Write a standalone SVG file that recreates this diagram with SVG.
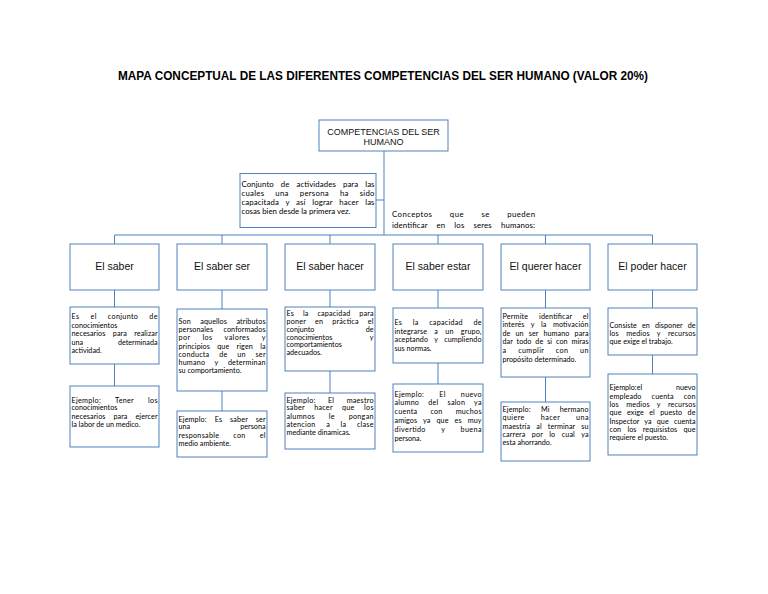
<svg xmlns="http://www.w3.org/2000/svg" width="768" height="594" viewBox="0 0 768 594">
<style>
.bx{fill:#fff;stroke:#4F81BD;stroke-width:1}
.ln{fill:none;stroke:#4F81BD;stroke-width:1}
.title{font-family:"Liberation Sans",Arial,sans-serif;font-weight:bold;font-size:12px;fill:#000}
.hd{font-family:"Liberation Sans",Arial,sans-serif;font-size:10.5px;fill:#111;text-anchor:middle}
.top{font-family:"Liberation Sans",Arial,sans-serif;font-size:9px;fill:#111;text-anchor:middle}
.t{font-family:Lato,"Open Sans",sans-serif;font-size:7.2px;fill:#000}
.t2{font-family:Lato,"Open Sans",sans-serif;font-size:7.8px;fill:#000}
.e{text-anchor:end}
</style>
<rect width="768" height="594" fill="#fff"/>
<text class="title" x="118" y="79.5" textLength="530" lengthAdjust="spacingAndGlyphs">MAPA CONCEPTUAL DE LAS DIFERENTES  COMPETENCIAS DEL SER HUMANO (VALOR 20%)</text>

<g id="connectors">
<path class="ln" d="M384 151V235M376 200H384M114.5 235H652.5M114.5 235V244M222 235V244M330 235V244M438 235V244M545.5 235V244M652.5 235V244"/>
<path class="ln" d="M114.5 290V307M114.5 364V386M222 290V309M222 391V411M330 290V307M330 371V393M438 290V308M438 363V384M545.5 290V308M545.5 377V402M652.5 290V308M652.5 355V374"/>
</g>

<g id="root">
<rect class="bx" x="319" y="120" width="129" height="31"/>
<text class="top" x="383.5" y="134.5">COMPETENCIAS DEL SER</text>
<text class="top" x="383.5" y="144.5">HUMANO</text>
</g>

<g id="definicion">
<rect class="bx" x="240" y="173.5" width="136" height="54"/>
<text class="t2" x="241.5" y="187" style="word-spacing:5px" textLength="133" lengthAdjust="spacing">Conjunto de actividades para las</text>
<text class="t2" x="241.5" y="196" style="word-spacing:8.8px" textLength="133" lengthAdjust="spacing">cuales una persona ha sido</text>
<text class="t2" x="241.5" y="205" style="word-spacing:4.6px" textLength="133" lengthAdjust="spacing">capacitada y así lograr hacer las</text>
<text class="t2" x="241.5" y="214">cosas bien desde la primera vez.</text>
</g>

<g id="conceptos">
<text class="t2" x="392" y="216.5" style="word-spacing:15px" textLength="143" lengthAdjust="spacing">Conceptos que se pueden</text>
<text class="t2" x="392" y="227.5" style="word-spacing:6.9px" textLength="143" lengthAdjust="spacing">identificar en los seres humanos:</text>
</g>

<g id="el-saber">
<rect class="bx" x="70" y="244" width="89" height="46"/>
<text class="hd" x="114.5" y="270">El saber</text>
</g>
<g id="el-saber-ser">
<rect class="bx" x="177" y="244" width="90" height="46"/>
<text class="hd" x="222" y="270">El saber ser</text>
</g>
<g id="el-saber-hacer">
<rect class="bx" x="285" y="244" width="90" height="46"/>
<text class="hd" x="330" y="270">El saber hacer</text>
</g>
<g id="el-saber-estar">
<rect class="bx" x="393" y="244" width="90" height="46"/>
<text class="hd" x="438" y="270">El saber estar</text>
</g>
<g id="el-querer-hacer">
<rect class="bx" x="501" y="244" width="89" height="46"/>
<text class="hd" x="545.5" y="270">El querer hacer</text>
</g>
<g id="el-poder-hacer">
<rect class="bx" x="608" y="244" width="89" height="46"/>
<text class="hd" x="652.5" y="270">El poder hacer</text>
</g>

<g id="saber-def">
<rect class="bx" x="70" y="307" width="89" height="57"/>
<text class="t" x="71.5" y="319" style="word-spacing:9px" textLength="86" lengthAdjust="spacing">Es el conjunto de</text>
<text class="t" x="71.5" y="327.5">conocimientos</text>
<text class="t" x="71.5" y="336" style="word-spacing:5.5px" textLength="86" lengthAdjust="spacing">necesarios para realizar</text>
<text class="t" x="71.5" y="344.5">una</text><text class="t e" x="157.5" y="344.5">determinada</text>
<text class="t" x="71.5" y="353">actividad.</text>
</g>
<g id="saber-ej">
<rect class="bx" x="70" y="386" width="89" height="61"/>
<text class="t" x="71.5" y="402.5" style="word-spacing:12px" textLength="86" lengthAdjust="spacing">Ejemplo: Tener los</text>
<text class="t" x="71.5" y="410">conocimientos</text>
<text class="t" x="71.5" y="418.5" style="word-spacing:6px" textLength="86" lengthAdjust="spacing">necesarios para ejercer</text>
<text class="t" x="71.5" y="426.5">la labor de un medico.</text>
</g>

<g id="saber-ser-def">
<rect class="bx" x="177" y="309" width="90" height="82"/>
<text class="t" x="178.5" y="324" style="word-spacing:7.5px" textLength="87" lengthAdjust="spacing">Son aquellos atributos</text>
<text class="t" x="178.5" y="332" style="word-spacing:8.5px" textLength="87" lengthAdjust="spacing">personales conformados</text>
<text class="t" x="178.5" y="340" style="word-spacing:10px" textLength="87" lengthAdjust="spacing">por los valores y</text>
<text class="t" x="178.5" y="348.5" style="word-spacing:5.3px" textLength="87" lengthAdjust="spacing">principios que rigen la</text>
<text class="t" x="178.5" y="356.5" style="word-spacing:7.7px" textLength="87" lengthAdjust="spacing">conducta de un ser</text>
<text class="t" x="178.5" y="365" style="word-spacing:7.6px" textLength="87" lengthAdjust="spacing">humano y determinan</text>
<text class="t" x="178.5" y="373">su comportamiento.</text>
</g>
<g id="saber-ser-ej">
<rect class="bx" x="177" y="411" width="90" height="46"/>
<text class="t" x="178.5" y="421.5" style="word-spacing:6px" textLength="87" lengthAdjust="spacing">Ejemplo: Es saber ser</text>
<text class="t" x="178.5" y="429">una</text><text class="t e" x="265.5" y="429">persona</text>
<text class="t" x="178.5" y="437.5" style="word-spacing:12px" textLength="87" lengthAdjust="spacing">responsable con el</text>
<text class="t" x="178.5" y="446">medio ambiente.</text>
</g>

<g id="saber-hacer-def">
<rect class="bx" x="285" y="307" width="90" height="64"/>
<text class="t" x="286.5" y="316" style="word-spacing:6.9px" textLength="87" lengthAdjust="spacing">Es la capacidad para</text>
<text class="t" x="286.5" y="323.5" style="word-spacing:7px" textLength="87" lengthAdjust="spacing">poner en práctica el</text>
<text class="t" x="286.5" y="332">conjunto</text><text class="t e" x="373.5" y="332">de</text>
<text class="t" x="286.5" y="339.5">conocimientos</text><text class="t e" x="373.5" y="339.5">y</text>
<text class="t" x="286.5" y="347">comportamientos</text>
<text class="t" x="286.5" y="355">adecuados.</text>
</g>
<g id="saber-hacer-ej">
<rect class="bx" x="285" y="393" width="90" height="56"/>
<text class="t" x="286.5" y="402.5" style="word-spacing:10.4px" textLength="87" lengthAdjust="spacing">Ejemplo: El maestro</text>
<text class="t" x="286.5" y="410" style="word-spacing:7.4px" textLength="87" lengthAdjust="spacing">saber hacer que los</text>
<text class="t" x="286.5" y="418.5" style="word-spacing:11.7px" textLength="87" lengthAdjust="spacing">alumnos le pongan</text>
<text class="t" x="286.5" y="426.5" style="word-spacing:8.5px" textLength="87" lengthAdjust="spacing">atencion a la clase</text>
<text class="t" x="286.5" y="435">mediante dinamicas.</text>
</g>

<g id="saber-estar-def">
<rect class="bx" x="393" y="308" width="90" height="55"/>
<text class="t" x="394.5" y="325" style="word-spacing:8.5px" textLength="87" lengthAdjust="spacing">Es la capacidad de</text>
<text class="t" x="394.5" y="333.5" style="word-spacing:5.3px" textLength="87" lengthAdjust="spacing">integrarse a un grupo,</text>
<text class="t" x="394.5" y="342" style="word-spacing:4.5px" textLength="87" lengthAdjust="spacing">aceptando y cumpliendo</text>
<text class="t" x="394.5" y="351">sus normas.</text>
</g>
<g id="saber-estar-ej">
<rect class="bx" x="393" y="384" width="90" height="68"/>
<text class="t" x="394.5" y="396.5" style="word-spacing:12.9px" textLength="87" lengthAdjust="spacing">Ejemplo: El nuevo</text>
<text class="t" x="394.5" y="405" style="word-spacing:7px" textLength="87" lengthAdjust="spacing">alumno del salon ya</text>
<text class="t" x="394.5" y="414" style="word-spacing:11px" textLength="87" lengthAdjust="spacing">cuenta con muchos</text>
<text class="t" x="394.5" y="423" style="word-spacing:4px" textLength="87" lengthAdjust="spacing">amigos ya que es muy</text>
<text class="t" x="394.5" y="432" style="word-spacing:13.3px" textLength="87" lengthAdjust="spacing">divertido y buena</text>
<text class="t" x="394.5" y="440.5">persona.</text>
</g>

<g id="querer-hacer-def">
<rect class="bx" x="501" y="308" width="89" height="69"/>
<text class="t" x="502.5" y="318.5" style="word-spacing:8.8px" textLength="86" lengthAdjust="spacing">Permite identificar el</text>
<text class="t" x="502.5" y="327" style="word-spacing:4.6px" textLength="86" lengthAdjust="spacing">interés y la motivación</text>
<text class="t" x="502.5" y="335.5" style="word-spacing:3.1px" textLength="86" lengthAdjust="spacing">de un ser humano para</text>
<text class="t" x="502.5" y="344" style="word-spacing:2.1px" textLength="86" lengthAdjust="spacing">dar todo de si con miras</text>
<text class="t" x="502.5" y="353" style="word-spacing:9.5px" textLength="86" lengthAdjust="spacing">a cumplir con un</text>
<text class="t" x="502.5" y="361.5">propósito determinado.</text>
</g>
<g id="querer-hacer-ej">
<rect class="bx" x="501" y="402" width="89" height="59"/>
<text class="t" x="502.5" y="411.5" style="word-spacing:8.2px" textLength="86" lengthAdjust="spacing">Ejemplo: Mi hermano</text>
<text class="t" x="502.5" y="420" style="word-spacing:13.8px" textLength="86" lengthAdjust="spacing">quiere hacer una</text>
<text class="t" x="502.5" y="428.5" style="word-spacing:4.2px" textLength="86" lengthAdjust="spacing">maestría al terminar su</text>
<text class="t" x="502.5" y="437" style="word-spacing:4.4px" textLength="86" lengthAdjust="spacing">carrera por lo cual ya</text>
<text class="t" x="502.5" y="445">esta ahorrando.</text>
</g>

<g id="poder-hacer-def">
<rect class="bx" x="608" y="308" width="89" height="47"/>
<text class="t" x="609.5" y="327.5" style="word-spacing:3.3px" textLength="86" lengthAdjust="spacing">Consiste en disponer de</text>
<text class="t" x="609.5" y="336" style="word-spacing:5.4px" textLength="86" lengthAdjust="spacing">los medios y recursos</text>
<text class="t" x="609.5" y="344">que exige el trabajo.</text>
</g>
<g id="poder-hacer-ej">
<rect class="bx" x="608" y="374" width="89" height="81"/>
<text class="t" x="609.5" y="390">Ejemplo:el</text><text class="t e" x="695.5" y="390">nuevo</text>
<text class="t" x="609.5" y="398.5" style="word-spacing:8px" textLength="86" lengthAdjust="spacing">empleado cuenta con</text>
<text class="t" x="609.5" y="407" style="word-spacing:5.4px" textLength="86" lengthAdjust="spacing">los medios y recursos</text>
<text class="t" x="609.5" y="415" style="word-spacing:3.5px" textLength="86" lengthAdjust="spacing">que exige el puesto de</text>
<text class="t" x="609.5" y="424" style="word-spacing:3.3px" textLength="86" lengthAdjust="spacing">Inspector ya que cuenta</text>
<text class="t" x="609.5" y="432" style="word-spacing:4.3px" textLength="86" lengthAdjust="spacing">con los requisistos que</text>
<text class="t" x="609.5" y="440">requiere el puesto.</text>
</g>
</svg>
